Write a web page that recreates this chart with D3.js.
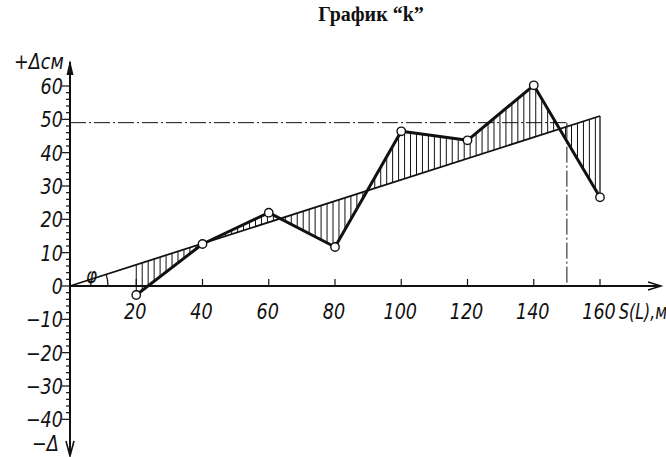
<!DOCTYPE html>
<html><head><meta charset="utf-8">
<script src="https://cdn.jsdelivr.net/npm/d3@7"></script>
<style>
body{margin:0;background:#fff;}
text{font-family:"DejaVu Sans",sans-serif;font-style:italic;fill:#111;}
</style></head><body>
<svg id="c" width="666" height="457"></svg>
<script>
const title = "График “k”";
const sValues = [20, 40, 60, 80, 100, 120, 140, 160];
const deltaValues = [-2.7, 12.6, 22, 11.7, 46.4, 43.7, 60.2, 26.6];
const trendStart = [0, 0];
const trendEnd = [160, 51];
const levelValue = 49;
const levelS = 150;
const xTickValues = [20, 40, 60, 80, 100, 120, 140, 160];
const yTickValues = [60, 50, 40, 30, 20, 10, 0, -10, -20, -30, -40];

const svg = d3.select("#c");
const x = d3.scaleLinear().domain([0, 160]).range([70, 600]);
const y = d3.scaleLinear().domain([0, 60]).range([286, 86]);
const ink = "#111";

function txt(px, py, str, size, anchor, sx) {
  return svg.append("text")
    .attr("transform", `translate(${px},${py}) scale(${sx || 0.8},1)`)
    .attr("text-anchor", anchor || "start")
    .style("font-size", size + "px").text(str);
}

// title
svg.append("text").attr("x", 371).attr("y", 21).attr("text-anchor", "middle")
  .style("font-family", "'Liberation Serif',serif").style("font-style", "normal")
  .style("font-weight", "bold").style("font-size", "20px").text(title);

const trend = d3.scaleLinear().domain([trendStart[0], trendEnd[0]]).range([trendStart[1], trendEnd[1]]);
const poly = d3.scaleLinear().domain(sValues).range(deltaValues);

// hatching
const hatch = svg.append("g").attr("stroke", ink).attr("stroke-width", 1);
for (let s = sValues[0]; s <= sValues[sValues.length - 1] + 0.01; s += 1.8) {
  const s2 = Math.min(s, 160);
  hatch.append("line").attr("x1", x(s2)).attr("x2", x(s2))
    .attr("y1", y(poly(s2))).attr("y2", y(trend(s2)));
}
hatch.append("line").attr("x1", x(160)).attr("x2", x(160))
  .attr("y1", y(poly(160))).attr("y2", y(trend(160))).attr("stroke-width", 1.3);

// dash-dot helper lines
svg.append("line").attr("x1", x(0)).attr("x2", x(levelS)).attr("y1", y(levelValue)).attr("y2", y(levelValue))
  .attr("stroke", ink).attr("stroke-width", 1).attr("stroke-dasharray", "16 3 2 3");
svg.append("line").attr("x1", x(levelS)).attr("x2", x(levelS)).attr("y1", y(levelValue)).attr("y2", y(0))
  .attr("stroke", ink).attr("stroke-width", 1).attr("stroke-dasharray", "16 3 2 3");

// trend line
svg.append("line").attr("x1", x(trendStart[0])).attr("y1", y(trendStart[1]))
  .attr("x2", x(trendEnd[0])).attr("y2", y(trendEnd[1]))
  .attr("stroke", ink).attr("stroke-width", 1.8);

// axes
svg.append("line").attr("x1", x(0)).attr("x2", 660).attr("y1", y(0)).attr("y2", y(0))
  .attr("stroke", ink).attr("stroke-width", 2);
svg.append("path").attr("d", `M648,${y(0)-4} L661,${y(0)} L648,${y(0)+4}`).attr("fill", "none").attr("stroke", ink).attr("stroke-width", 1.5);
svg.append("line").attr("x1", x(0)).attr("x2", x(0)).attr("y1", 62).attr("y2", 455)
  .attr("stroke", ink).attr("stroke-width", 2);
svg.append("path").attr("d", `M${x(0)-3.5},75 L${x(0)},60 L${x(0)+3.5},75 Z`).attr("fill", ink);
svg.append("path").attr("d", `M${x(0)-4},441 L${x(0)},456 L${x(0)+4},441`).attr("fill", "none").attr("stroke", ink).attr("stroke-width", 1.6);

// y minor ticks
const minor = d3.range(-40, 61, 2);
svg.append("g").selectAll("line").data(minor).join("line")
  .attr("x1", d => d % 10 === 0 ? x(0) - 8 : x(0) - 4).attr("x2", x(0) + 1)
  .attr("y1", d => y(d)).attr("y2", d => y(d))
  .attr("stroke", ink).attr("stroke-width", 1.2);

// y labels
yTickValues.forEach(d => txt(x(0) - 7, y(d) + 8, d < 0 ? "\u2212" + Math.abs(d) : String(d), 22, "end"));

// x ticks
svg.append("g").selectAll("line").data(xTickValues).join("line")
  .attr("x1", d => x(d)).attr("x2", d => x(d)).attr("y1", y(0) - 7).attr("y2", y(0))
  .attr("stroke", ink).attr("stroke-width", 1.2);
xTickValues.forEach(d => txt(x(d) - 1, y(0) + 33, String(d), 22, "middle"));

// axis titles
txt(619, y(0) + 33, "S(L),м", 22, "start", 0.72);
txt(14, 69, "+Δcм", 22);
txt(32, 451, "−Δ", 22);
txt(86, 283, "φ", 21);
svg.append("path").attr("d", `M${x(0)+38},${y(0)} A38,38 0 0 0 ${x(0)+36.2},${y(0)-11.5}`)
  .attr("fill", "none").attr("stroke", ink).attr("stroke-width", 1.2);

// profile polyline
const pts = sValues.map((s, i) => [s, deltaValues[i]]);
svg.append("path").datum(pts)
  .attr("d", d3.line().x(d => x(d[0])).y(d => y(d[1])))
  .attr("fill", "none").attr("stroke", ink).attr("stroke-width", 3).attr("stroke-linejoin", "round");
svg.append("g").selectAll("circle").data(pts).join("circle")
  .attr("cx", d => x(d[0])).attr("cy", d => y(d[1])).attr("r", 4.2)
  .attr("fill", "#fff").attr("stroke", ink).attr("stroke-width", 1.4);
</script>
</body></html>
